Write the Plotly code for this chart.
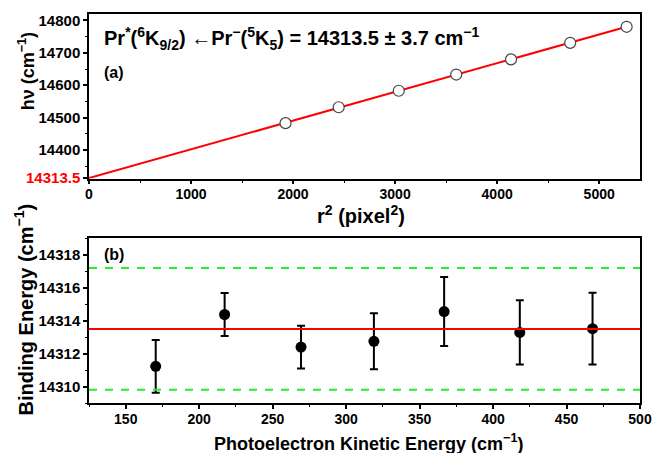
import numpy as np
import plotly.graph_objects as go
from plotly.subplots import make_subplots

# ---- Panel (a) data ----
r2 = [1926, 2447, 3036, 3599, 4136, 4716, 5269]
hv = [14483, 14532, 14583, 14633, 14680, 14731, 14780.5]
intercept = 14313.5
uncert = 3.7

# ---- Panel (b) data ----
ke = [170.4, 217.3, 269.3, 318.9, 366.7, 418.2, 467.7]
be = [14311.23, 14314.38, 14312.40, 14312.75, 14314.56, 14313.29, 14313.52]
be_err = [1.6, 1.3, 1.3, 1.7, 2.1, 1.95, 2.18]

# tick labels
a_xticks = [0, 1000, 2000, 3000, 4000, 5000]
a_yticks = [intercept, 14400, 14500, 14600, 14700, 14800]
a_yticktext = ['<span style="color:#ff0000">14313.5</span>', "14400", "14500",
               "14600", "14700", "14800"]
b_xticks = [150, 200, 250, 300, 350, 400, 450, 500]
b_yticks = [14310, 14312, 14314, 14316, 14318]

# fixed-intercept least squares slope
x_arr = np.array(r2, dtype=float)
y_arr = np.array(hv, dtype=float)
slope = np.sum((y_arr - intercept) * x_arr) / np.sum(x_arr ** 2)
fit_x = [0, r2[-1]]
fit_y = [intercept + slope * v for v in fit_x]

FONT = "Liberation Sans, Arial, sans-serif"
W, H = 664, 453
ML, MR, MT, MB = 89, 12, 14, 50
PW, PH = W - ML - MR, H - MT - MB


def px(x):
    return (x - ML) / PW


def py(y):
    return (H - MB - y) / PH


fig = make_subplots(rows=2, cols=1, vertical_spacing=0.1542)

fig.add_trace(go.Scatter(x=fit_x, y=fit_y, mode="lines",
                         line=dict(color="#ff0000", width=2), showlegend=False),
              row=1, col=1)
fig.add_trace(go.Scatter(x=r2, y=hv, mode="markers",
                         marker=dict(symbol="circle", size=11, color="white",
                                     line=dict(color="#444444", width=1.2)),
                         showlegend=False), row=1, col=1)

fig.add_trace(go.Scatter(x=ke, y=be, mode="markers",
                         marker=dict(symbol="circle", size=11, color="black"),
                         error_y=dict(type="data", array=be_err, visible=True,
                                      color="black", thickness=2, width=4),
                         showlegend=False), row=2, col=1)

# Reference lines in panel (b)
fig.add_shape(type="line", xref="x2 domain", yref="y2", x0=0, x1=1,
              y0=intercept, y1=intercept, line=dict(color="#ff0000", width=2))
for v in (intercept + uncert, intercept - uncert):
    fig.add_shape(type="line", xref="x2 domain", yref="y2", x0=0, x1=1,
                  y0=v, y1=v, line=dict(color="#22ee22", width=2, dash="8px,8px"))

axis_common = dict(showline=True, linecolor="black", linewidth=1.5, mirror=True,
                   ticks="outside", ticklen=4, tickwidth=1.5, tickcolor="black",
                   showgrid=False, zeroline=False)
xfont = dict(family=FONT, size=14, color="black", weight="bold")
yfont = dict(family=FONT, size=15, color="black", weight="bold")
minor_common = dict(ticks="outside", ticklen=2.5, tickwidth=1.2, tickcolor="black")

fig.update_xaxes(range=[0, 5400], tickvals=a_xticks, tickfont=xfont,
                 ticklabelstandoff=-2,
                 minor=dict(dtick=500, tick0=0, **minor_common),
                 row=1, col=1, **axis_common)
fig.update_yaxes(range=[14312, 14820], tickvals=a_yticks, ticktext=a_yticktext,
                 tickfont=yfont,
                 minor=dict(dtick=50, tick0=14400, **minor_common),
                 row=1, col=1, **axis_common)
fig.update_xaxes(range=[125, 500], tickvals=b_xticks, tickfont=xfont,
                 ticklabelstandoff=-2,
                 minor=dict(dtick=25, tick0=125, **minor_common),
                 row=2, col=1, **axis_common)
fig.update_yaxes(range=[14309, 14319], tickvals=b_yticks, tickformat="d",
                 tickfont=yfont,
                 minor=dict(dtick=1, tick0=14309, **minor_common),
                 row=2, col=1, **axis_common)

# Axis titles placed as annotations (positions as in the reference)
titles = [
    ("<b>hν (cm<sup>−1</sup>)</b>", 25, 71, -90, 18),
    ("<b>r<sup>2</sup> (pixel<sup>2</sup>)</b>", 367, 214, 0, 20),
    ("<b>Binding Energy (cm<sup>−1</sup>)</b>", 22, 309, -90, 20),
    ("<b>Photoelectron Kinetic Energy (cm<sup>−1</sup>)</b>", 375, 442, 0, 18),
]
for text, x, y, ang, size in titles:
    fig.add_annotation(xref="paper", yref="paper", x=px(x), y=py(y),
                       xanchor="center", yanchor="middle", showarrow=False,
                       textangle=ang, text=text,
                       font=dict(family=FONT, size=size, color="black"))

fig.add_annotation(xref="paper", yref="paper", x=px(102), y=py(38),
                   xanchor="left", yanchor="middle", showarrow=False,
                   text="<b>Pr<sup>*</sup>(<sup>6</sup>K<sub>9/2</sub>) ←Pr<sup>−</sup>(<sup>5</sup>K<sub>5</sub>) = 14313.5 ± 3.7 cm<sup>−1</sup></b>",
                   font=dict(family=FONT, size=20, color="black"))
fig.add_annotation(xref="paper", yref="paper", x=px(102), y=py(72),
                   xanchor="left", yanchor="middle", showarrow=False,
                   text="<b>(a)</b>", font=dict(family=FONT, size=16, color="black"))
fig.add_annotation(xref="paper", yref="paper", x=px(102), y=py(254),
                   xanchor="left", yanchor="middle", showarrow=False,
                   text="<b>(b)</b>", font=dict(family=FONT, size=16, color="black"))

fig.update_layout(width=W, height=H,
                  margin=dict(l=ML, r=MR, t=MT, b=MB),
                  plot_bgcolor="white", paper_bgcolor="white",
                  font=dict(family=FONT, color="black"))

fig.write_html("out.html")
